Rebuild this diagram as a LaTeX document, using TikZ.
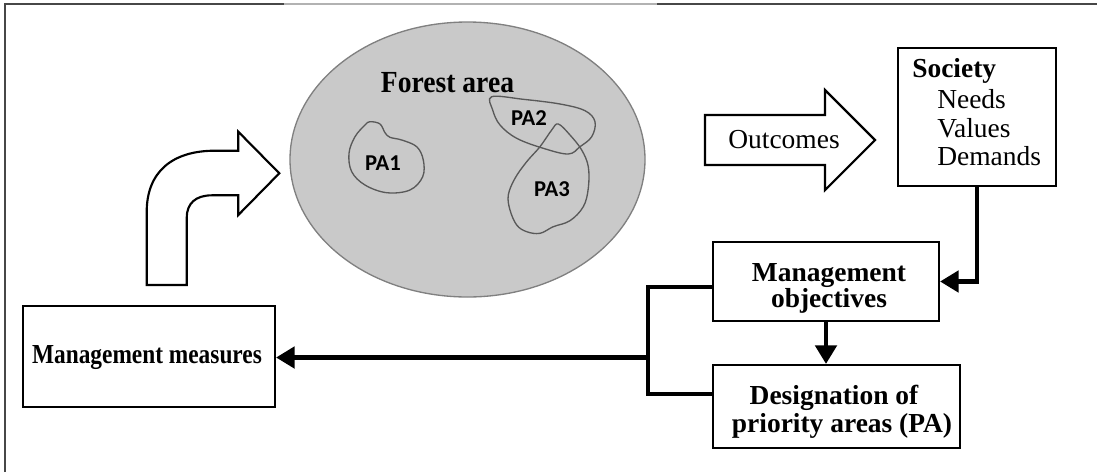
\documentclass[tikz,border=0pt]{standalone}
\usepackage{fontspec}
\setmainfont{Liberation Serif}
\newfontfamily\pafont{Carlito}
\usetikzlibrary{arrows.meta,shapes.geometric,calc}
\begin{document}
\begin{tikzpicture}[x=0.75pt,y=-0.75pt,
  box/.style={draw=black,line width=1.6pt,inner sep=0pt,fill=white},
  txt/.style={inner sep=0pt,font=\fontsize{20.6}{24}\selectfont},
  btxt/.style={inner sep=0pt,font=\fontsize{20.6}{24}\selectfont\bfseries},
  patxt/.style={inner sep=0pt,font=\pafont\bfseries\fontsize{17}{20}\selectfont},
  conn/.style={line width=3.2pt,line join=miter,-{Triangle[length=14pt,width=16pt]}},
  link/.style={line width=3.2pt,line join=miter},
  blob/.style={draw=black!65,line width=1pt},
  outline/.style={draw=black,line width=1.6pt,fill=white,line join=miter},
  framedark/.style={draw=black!72,line width=1.2pt},
  framelight/.style={draw=black!30,line width=1.2pt}]
\useasboundingbox (0,0) rectangle (1097,472);
% frame
\draw[framedark] (5,472) -- (5,4) -- (284,4);
\draw[framelight] (284,4) -- (657,4);
\draw[framedark] (657,4) -- (1097,4);
% forest ellipse
\node[ellipse,draw=black!50,fill=black!21,line width=1pt,minimum width=266.25pt,minimum height=206.25pt,inner sep=0pt] (forest) at (467.5,159.5) {};
\node[btxt,anchor=base] (forestt) at (447.5,92.5) {\scalebox{0.9}[1]{\fontsize{23}{26}\selectfont Forest area}};
% PA blobs
\draw[blob] plot[smooth cycle,tension=0.6] coordinates {(370,121.7) (380,124) (385,132.7) (390,137.3) (401.7,140) (416.7,146.7) (423.3,160) (422.7,176.7) (410,190) (386.7,192.7) (365,185) (351.7,171.7) (349,153.3) (355,136.7) (365,125)};
\draw[blob] plot[smooth cycle,tension=0.6] coordinates {(491.7,96.7) (523.3,99.3) (560,104) (585,110.7) (595,121.7) (591.7,136.7) (580,146.7) (568.3,154) (543.3,148.3) (516.7,138.3) (500,125) (492.7,110)};
\draw[blob] plot[smooth cycle,tension=0.6] coordinates {(558.3,124) (570,135) (581.7,150) (588.3,166.7) (588.3,188.3) (583.3,206.7) (570,220.7) (553.3,226.7) (540,233.3) (526.7,231.7) (516.7,225) (510,210) (508.3,195) (515,178.3) (526.7,161.7) (540,146.7) (551.7,130)};
\node[patxt] (pa1) at (383,163) {PA1};
\node[patxt] (pa2) at (529,118) {PA2};
\node[patxt] (pa3) at (552,189) {PA3};
% curved arrow
\draw[outline] (146.7,285) -- (146.7,212) .. controls (146.7,172) and (172,150.7) .. (215,150.7) -- (238.3,150.7) -- (238.3,131.7) -- (279.3,173.3) -- (238.3,215) -- (238.3,195.3) -- (212,195.3) .. controls (196,195.3) and (186.7,203) .. (186.7,218) -- (186.7,285) -- cycle;
% outcomes arrow
\draw[outline] (705,115) -- (825,115) -- (825,90) -- (875,140) -- (825,190) -- (825,165) -- (705,165) -- cycle;
\node[txt,anchor=base] (outt) at (784,148) {Outcomes};
% boxes
\node[box,minimum width=189pt,minimum height=75.75pt] (meas) at (149,356.5) {};
\node[box,minimum width=169.5pt,minimum height=59.25pt] (obj) at (826,281.5) {};
\node[box,minimum width=185.25pt,minimum height=62.25pt] (des) at (836.5,406.5) {};
\node[box,line width=2pt,minimum width=118.5pt,minimum height=103.5pt] (soc) at (977,117) {};
% texts
\node[btxt,anchor=base] (meast) at (147,363) {\scalebox{0.85}[1]{Management measures}};
\node[btxt,anchor=base] (objt1) at (829,281) {Management};
\node[btxt,anchor=base] (objt2) at (829,307) {objectives};
\node[btxt,anchor=base] (dest1) at (834,404) {Designation of};
\node[btxt,anchor=base] (dest2) at (842,432) {priority areas (PA)};
\node[btxt,anchor=base west] (soct) at (912,77) {Society};
\node[txt,anchor=base west] (soc1) at (937,108) {Needs};
\node[txt,anchor=base west] (soc2) at (937,137) {Values};
\node[txt,anchor=base west] (soc3) at (937,165) {Demands};
% connectors
\draw[conn] (soc.south) |- (obj.east);
\draw[conn] (obj.south) -- (obj.south |- des.north);
\coordinate (bt) at (648,287);
\coordinate (bb) at (648,394);
\coordinate (bj) at (648,357.5);
\draw[link] (obj.west |- bt) -- (bt) -- (bb) -- (des.west |- bb);
\draw[conn] (bj) -- (bj -| meas.east);
\end{tikzpicture}
\end{document}
